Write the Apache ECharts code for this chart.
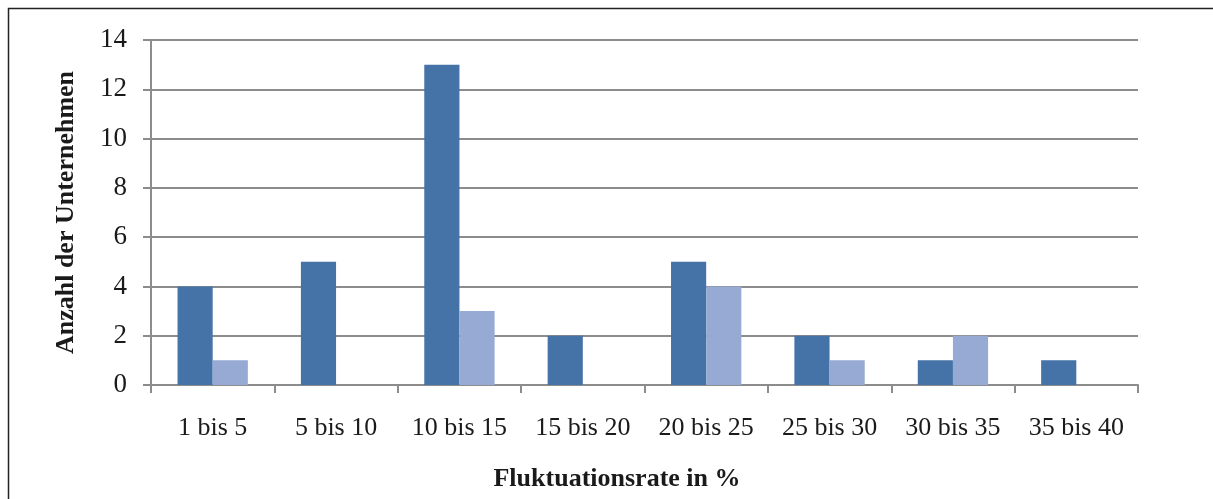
<!DOCTYPE html>
<html>
<head>
<meta charset="utf-8">
<script src="https://cdn.jsdelivr.net/npm/echarts@6/dist/echarts.min.js"></script>
<style>
html,body{margin:0;padding:0;background:#fff;}
#c{width:1213px;height:499px;}
</style>
</head>
<body>
<div id="c"></div>
<script>
const categories = ['1 bis 5','5 bis 10','10 bis 15','15 bis 20','20 bis 25','25 bis 30','30 bis 35','35 bis 40'];
const seriesA = [4,5,13,2,5,2,1,1];
const seriesB = [1,0,3,0,4,1,2,0];
const yTicks = {min:0, max:14, interval:2};

const FONT = '"Liberation Serif", "DejaVu Serif", serif';
const chart = echarts.init(document.getElementById('c'), null, {renderer:'canvas'});
chart.setOption({
  animation:false,
  backgroundColor:'#fff',
  graphic:[{
    type:'rect', left:6, top:6, silent:true, z:-10,
    shape:{x:0,y:0,width:1230,height:520},
    style:{fill:'none', stroke:'#222', lineWidth:1.5}
  }],
  title:{
    text:'Fluktuationsrate in %',
    left:612, top:461, textAlign:'center',
    textStyle:{fontFamily:FONT, fontSize:26, fontWeight:'bold', color:'#1a1a1a'}
  },
  grid:{left:151, right:75, top:40, bottom:114, containLabel:false},
  xAxis:{
    type:'category', data:categories, boundaryGap:true,
    axisLine:{lineStyle:{color:'#8c8c8c', width:2}},
    axisTick:{show:true, interval:0, length:8, lineStyle:{color:'#8c8c8c', width:2}},
    axisLabel:{interval:0, hideOverlap:false, fontFamily:FONT, fontSize:26, color:'#1a1a1a', margin:30}
  },
  yAxis:{
    type:'value', min:yTicks.min, max:yTicks.max, interval:yTicks.interval,
    name:'Anzahl der Unternehmen', nameLocation:'middle', nameGap:72,
    nameTextStyle:{fontFamily:FONT, fontSize:26, fontWeight:'bold', color:'#1a1a1a'},
    axisLine:{show:true, lineStyle:{color:'#8c8c8c', width:2}},
    axisTick:{show:true, length:8, lineStyle:{color:'#8c8c8c', width:2}},
    splitLine:{lineStyle:{color:'#8c8c8c', width:2}},
    axisLabel:{fontFamily:FONT, fontSize:27, color:'#1a1a1a', margin:24}
  },
  series:[
    {type:'bar', data:seriesA, barGap:'0%', barCategoryGap:'43%',
     itemStyle:{color:'#4572a7'}},
    {type:'bar', data:seriesB, barGap:'0%', barCategoryGap:'43%',
     itemStyle:{color:'#96aad3'}}
  ]
});
</script>
</body>
</html>
